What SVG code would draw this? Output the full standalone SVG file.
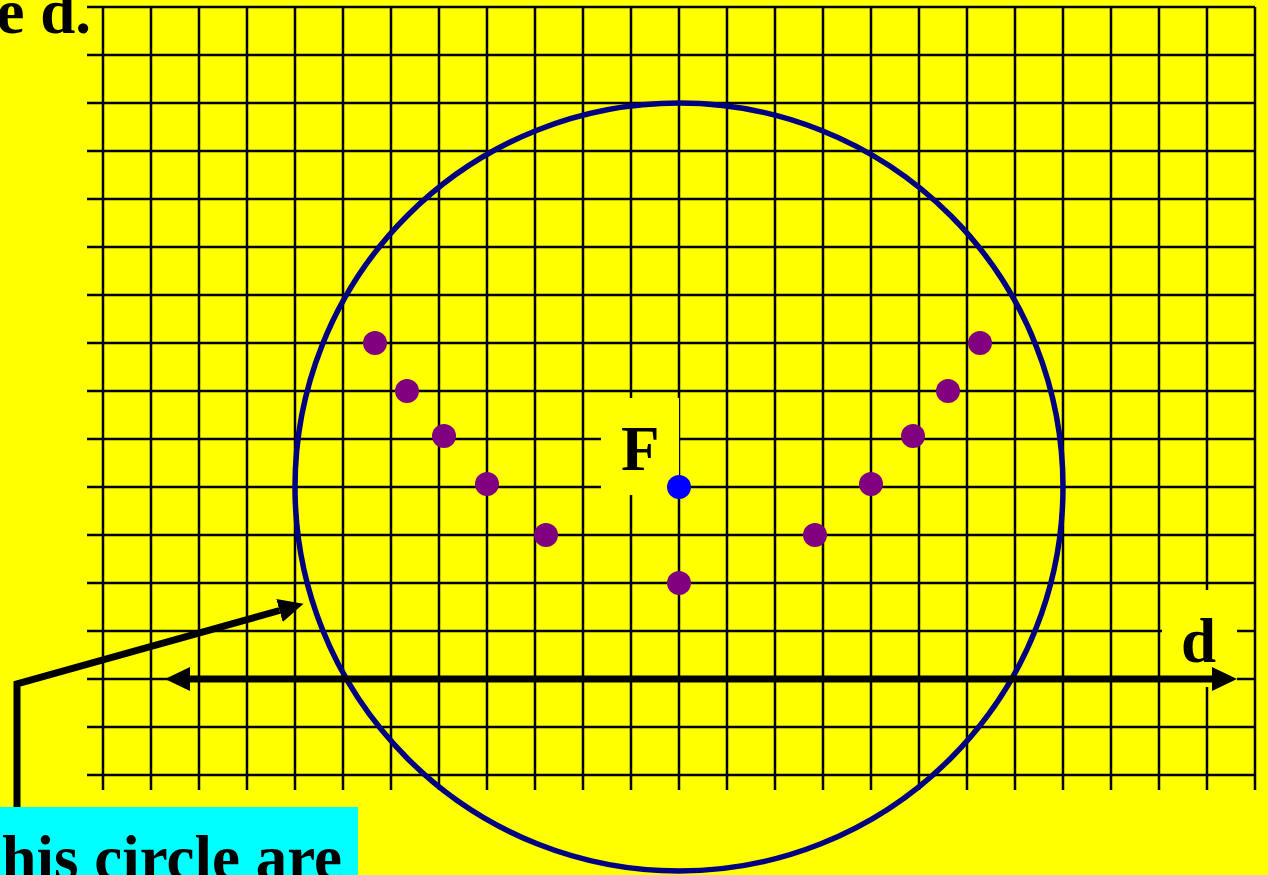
<svg xmlns="http://www.w3.org/2000/svg" width="1268" height="875" viewBox="0 0 1268 875">
  <defs>
    <style>
      .grid line { stroke: #000; stroke-width: 2.5; }
      .lbl { font-family: "Liberation Serif", "Times New Roman", serif; font-weight: bold; font-size: 63px; fill: #000; }
      .pt { fill: #800080; }
      .conn { stroke: #000; stroke-width: 7; fill: none; }
    </style>
    <marker id="ah" markerUnits="userSpaceOnUse" viewBox="0 -13 26 26" refX="0" refY="0" markerWidth="26" markerHeight="26" orient="auto-start-reverse">
      <path d="M0,-12 L25,0 L0,12 z" fill="#000"/>
    </marker>
  </defs>
  <rect x="0" y="0" width="1268" height="875" fill="#FFFF00"/>

  <g id="grid" class="grid">
    <line x1="87" y1="7" x2="1255" y2="7"/>
    <line x1="87" y1="55" x2="1255" y2="55"/>
    <line x1="87" y1="103" x2="1255" y2="103"/>
    <line x1="87" y1="151" x2="1255" y2="151"/>
    <line x1="87" y1="199" x2="1255" y2="199"/>
    <line x1="87" y1="247" x2="1255" y2="247"/>
    <line x1="87" y1="295" x2="1255" y2="295"/>
    <line x1="87" y1="343" x2="1255" y2="343"/>
    <line x1="87" y1="391" x2="1255" y2="391"/>
    <line x1="87" y1="439" x2="1255" y2="439"/>
    <line x1="87" y1="487" x2="1255" y2="487"/>
    <line x1="87" y1="535" x2="1255" y2="535"/>
    <line x1="87" y1="583" x2="1255" y2="583"/>
    <line x1="87" y1="631" x2="1255" y2="631"/>
    <line x1="87" y1="679" x2="1255" y2="679"/>
    <line x1="87" y1="727" x2="1255" y2="727"/>
    <line x1="87" y1="775" x2="1255" y2="775"/>
    <line x1="103" y1="7" x2="103" y2="790"/>
    <line x1="151" y1="7" x2="151" y2="790"/>
    <line x1="199" y1="7" x2="199" y2="790"/>
    <line x1="247" y1="7" x2="247" y2="790"/>
    <line x1="295" y1="7" x2="295" y2="790"/>
    <line x1="343" y1="7" x2="343" y2="790"/>
    <line x1="391" y1="7" x2="391" y2="790"/>
    <line x1="439" y1="7" x2="439" y2="790"/>
    <line x1="487" y1="7" x2="487" y2="790"/>
    <line x1="535" y1="7" x2="535" y2="790"/>
    <line x1="583" y1="7" x2="583" y2="790"/>
    <line x1="631" y1="7" x2="631" y2="790"/>
    <line x1="679" y1="7" x2="679" y2="790"/>
    <line x1="727" y1="7" x2="727" y2="790"/>
    <line x1="775" y1="7" x2="775" y2="790"/>
    <line x1="823" y1="7" x2="823" y2="790"/>
    <line x1="871" y1="7" x2="871" y2="790"/>
    <line x1="919" y1="7" x2="919" y2="790"/>
    <line x1="967" y1="7" x2="967" y2="790"/>
    <line x1="1015" y1="7" x2="1015" y2="790"/>
    <line x1="1063" y1="7" x2="1063" y2="790"/>
    <line x1="1111" y1="7" x2="1111" y2="790"/>
    <line x1="1159" y1="7" x2="1159" y2="790"/>
    <line x1="1207" y1="7" x2="1207" y2="790"/>
    <line x1="1255" y1="7" x2="1255" y2="790"/>
  </g>

  <g id="circle">
    <circle cx="679" cy="487" r="384" fill="none" stroke="#000080" stroke-width="5.5"/>
  </g>

  <g id="label-F">
    <rect x="601" y="398" width="78" height="97" fill="#FFFF00"/>
    <text class="lbl" x="621" y="470">F</text>
  </g>

  <g id="label-d">
    <rect x="1162" y="590" width="75" height="97" fill="#FFFF00"/>
    <text class="lbl" x="1181" y="662">d</text>
  </g>

  <g id="points">
    <circle class="pt" cx="375" cy="343" r="12"/>
    <circle class="pt" cx="407" cy="391" r="12"/>
    <circle class="pt" cx="444" cy="436" r="12"/>
    <circle class="pt" cx="487" cy="484" r="12"/>
    <circle class="pt" cx="546" cy="535" r="12"/>
    <circle class="pt" cx="679" cy="583" r="12"/>
    <circle class="pt" cx="815" cy="535" r="12"/>
    <circle class="pt" cx="871" cy="484" r="12"/>
    <circle class="pt" cx="913" cy="436" r="12"/>
    <circle class="pt" cx="948" cy="391" r="12"/>
    <circle class="pt" cx="980" cy="343" r="12"/>
  </g>

  <g id="focus">
    <circle cx="679" cy="487" r="12" fill="#0000FF"/>
  </g>

  <g id="connectors">
    <line class="conn" x1="190" y1="679" x2="1212" y2="679" marker-start="url(#ah)" marker-end="url(#ah)"/>
    <polyline class="conn" points="17,812 17,684 279.5,610.5" marker-end="url(#ah)"/>
  </g>

  <g id="title-fragment">
    <text class="lbl" x="91" y="33" text-anchor="end">e d.</text>
  </g>

  <g id="caption">
    <rect x="0" y="807" width="358" height="68" fill="#00FFFF"/>
    <text class="lbl" x="342" y="879" text-anchor="end">his circle are</text>
  </g>
</svg>
